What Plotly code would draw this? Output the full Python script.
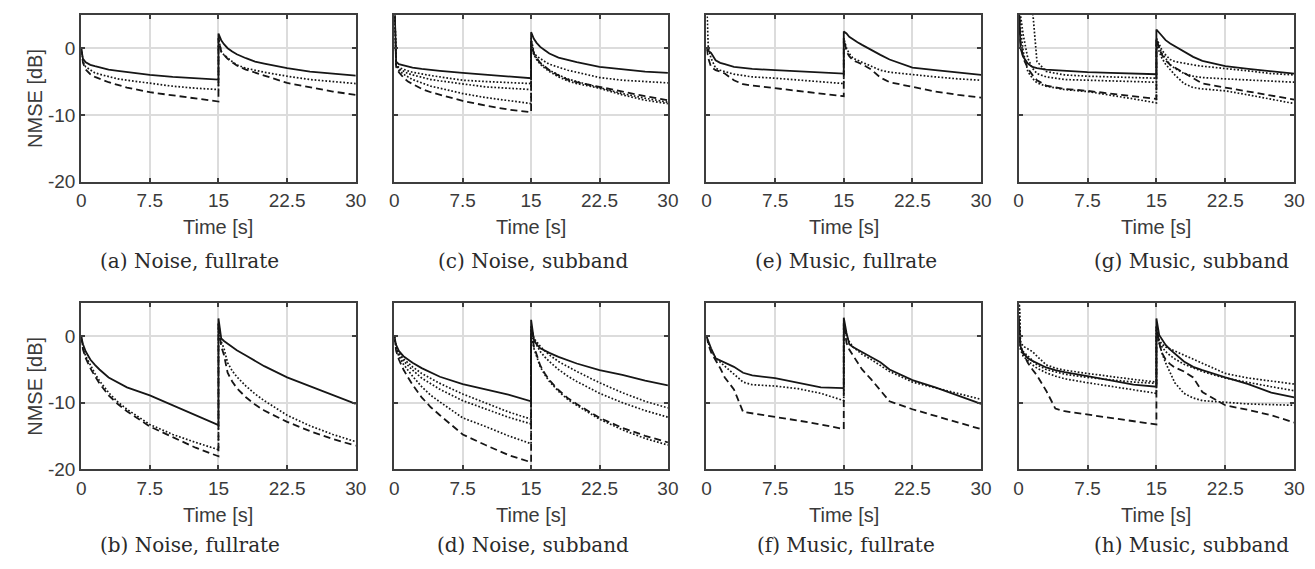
import plotly.graph_objects as go

# ---------------- data ----------------
TIME = [0, 0.2, 0.5, 1, 1.5, 2, 3, 4, 5, 7.5, 10, 12.5, 15, 15, 15.3, 15.6, 16, 16.5, 17, 18, 19, 20, 22.5, 25, 27.5, 30]
X_TICKS = [0, 7.5, 15, 22.5, 30]
X_TICK_TEXT = ["0", "7.5", "15", "22.5", "30"]
Y_TICKS = [-20, -10, 0]
Y_TICK_TEXT = ["-20", "-10", "0"]
CAPTIONS = ["(a) Noise, fullrate", "(c) Noise, subband", "(e) Music, fullrate", "(g) Music, subband",
            "(b) Noise, fullrate", "(d) Noise, subband", "(f) Music, fullrate", "(h) Music, subband"]
X_LABEL = "Time [s]"
Y_LABEL = "NMSE [dB]"

# (a) Noise, fullrate
A_SOLID = [0, -1.6, -2.1, -2.5, -2.7, -2.9, -3.2, -3.4, -3.6, -4.0, -4.3, -4.5, -4.7, 2.2, 1.2, 0.6, 0.0, -0.5, -0.9, -1.5, -2.0, -2.3, -3.0, -3.5, -3.8, -4.1]
A_DOTTED = [0, -2.0, -2.8, -3.3, -3.7, -3.9, -4.3, -4.6, -4.8, -5.3, -5.7, -6.0, -6.2, 1.5, -0.5, -1.0, -1.5, -2.0, -2.5, -3.0, -3.3, -3.6, -4.2, -4.7, -5.0, -5.3]
A_DASHED = [0, -2.2, -3.2, -3.9, -4.3, -4.6, -5.1, -5.5, -5.9, -6.6, -7.1, -7.6, -8.0, 1.5, -0.5, -1.0, -1.6, -2.1, -2.6, -3.2, -3.7, -4.1, -5.2, -5.9, -6.5, -7.0]

# (c) Noise, subband
C_SOLID = [8, -2.0, -2.4, -2.6, -2.8, -2.9, -3.1, -3.3, -3.4, -3.7, -4.0, -4.3, -4.5, 2.4, 1.4, 0.8, 0.2, -0.3, -0.8, -1.4, -1.8, -2.1, -2.8, -3.2, -3.5, -3.7]
C_DOTTED1 = [8, -2.4, -2.9, -3.2, -3.4, -3.6, -3.9, -4.1, -4.3, -4.8, -5.0, -5.2, -5.3, 1.5, -0.6, -1.2, -1.6, -2.0, -2.4, -2.9, -3.3, -3.6, -4.4, -4.8, -5.0, -5.2]
C_DOTTED2 = [8, -2.5, -3.1, -3.5, -3.8, -4.0, -4.4, -4.7, -4.9, -5.4, -5.8, -6.0, -6.2, 1.0, -0.8, -1.5, -2.2, -2.8, -3.3, -4.0, -4.6, -5.0, -5.9, -6.8, -7.5, -8.1]
C_DOTTED3 = [8, -2.6, -3.3, -3.9, -4.3, -4.7, -5.2, -5.7, -6.0, -6.8, -7.4, -7.9, -8.3, 0.5, -1.0, -1.7, -2.4, -3.0, -3.5, -4.3, -4.9, -5.3, -6.0, -7.0, -7.8, -8.3]
C_DASHED = [8, -2.8, -3.6, -4.4, -5.0, -5.4, -6.1, -6.6, -7.0, -7.9, -8.6, -9.2, -9.6, 1.0, -0.8, -1.5, -2.2, -2.8, -3.3, -4.1, -4.7, -5.1, -5.8, -6.6, -7.2, -7.8]

# (e) Music, fullrate
E_SOLID = [-0.2, -0.4, -0.7, -1.8, -2.2, -2.4, -2.8, -2.95, -3.1, -3.3, -3.5, -3.7, -3.8, 2.5, 2.2, 1.7, 1.4, 0.9, 0.5, -0.3, -1.0, -1.7, -2.9, -3.3, -3.7, -4.0]
E_DOTTED = [8, 0.0, -1.5, -3.0, -3.3, -3.5, -3.9, -4.1, -4.3, -4.5, -4.8, -5.0, -5.3, 1.5, 0.0, -0.8, -1.5, -1.8, -2.1, -2.8, -3.3, -3.6, -4.0, -4.3, -4.6, -4.8]
E_DASHED = [0, -1.5, -2.8, -3.3, -3.5, -3.8, -4.8, -5.4, -5.6, -6.0, -6.5, -6.8, -7.2, 1.5, -0.5, -1.2, -1.8, -2.1, -2.4, -3.2, -4.4, -5.1, -5.8, -6.5, -7.0, -7.4]

# (g) Music, subband
G_SOLID = [8, 0.0, -1.3, -2.3, -2.8, -3.0, -3.2, -3.3, -3.4, -3.6, -3.7, -3.8, -3.9, 2.8, 2.3, 1.8, 1.2, 0.7, 0.3, -0.5, -1.3, -1.9, -2.7, -3.1, -3.5, -3.8]
G_DOTTED1 = [8, 8, 8, 8, 6, -2.0, -3.5, -3.8, -4.0, -4.2, -4.3, -4.4, -4.5, 1.5, 0.5, -0.3, -1.0, -1.7, -2.0, -2.3, -2.5, -2.7, -3.0, -3.4, -3.8, -4.0]
G_DOTTED2 = [8, 5, 2, -1.5, -3.0, -3.8, -4.3, -4.5, -4.7, -4.8, -4.9, -5.0, -5.1, 1.0, 0.0, -0.8, -1.5, -2.5, -3.0, -3.8, -4.2, -4.4, -4.6, -4.8, -5.0, -5.1]
G_DOTTED3 = [8, 3, -0.5, -3.5, -4.5, -5.2, -5.7, -6.0, -6.2, -6.5, -7.0, -7.6, -8.2, 0.5, -0.5, -1.5, -2.4, -3.2, -4.0, -5.3, -5.9, -6.1, -6.4, -7.0, -7.7, -8.3]
G_DASHED = [8, 1, -1.5, -3.0, -4.0, -4.8, -5.6, -5.9, -6.1, -6.4, -6.8, -7.3, -7.6, 1.5, 0.0, -1.0, -1.8, -2.5, -2.9, -3.7, -4.5, -5.3, -5.9, -6.5, -7.1, -7.7]

# (b) Noise, fullrate
B_SOLID = [0, -1.2, -2.3, -3.5, -4.3, -5.0, -6.2, -7.0, -7.7, -8.9, -10.4, -11.9, -13.4, 2.7, -0.3, -0.7, -1.1, -1.6, -2.1, -2.9, -3.7, -4.5, -6.2, -7.5, -8.8, -10.2]
B_DOTTED = [0, -1.8, -3.0, -4.4, -5.6, -6.7, -8.5, -9.9, -11.0, -13.3, -14.8, -16.0, -17.1, 2.0, -0.8, -1.8, -4.0, -5.2, -6.1, -7.5, -8.7, -9.7, -11.9, -13.5, -14.8, -15.9]
B_DASHED = [0, -2.0, -3.3, -4.8, -6.0, -7.1, -8.9, -10.2, -11.3, -13.6, -15.2, -16.8, -18.1, 2.0, -1.5, -2.8, -5.5, -6.8, -7.8, -9.2, -10.3, -11.2, -12.9, -14.3, -15.5, -16.5]

# (d) Noise, subband
D_SOLID = [0, -1.3, -2.2, -3.0, -3.5, -4.0, -4.8, -5.5, -6.1, -7.2, -8.0, -8.8, -9.8, 2.5, -0.5, -1.2, -1.8, -2.2, -2.5, -3.1, -3.6, -4.1, -5.1, -5.8, -6.7, -7.4]
D_DOTTED1 = [0, -1.6, -2.5, -3.4, -4.0, -4.6, -5.6, -6.4, -7.1, -8.7, -10.0, -11.4, -12.5, 1.5, -0.3, -0.9, -1.5, -2.2, -2.8, -3.8, -4.6, -5.3, -7.0, -8.5, -9.8, -10.8]
D_DOTTED2 = [0, -1.7, -2.7, -3.7, -4.4, -5.1, -6.3, -7.2, -8.0, -9.7, -11.0, -12.2, -13.2, 1.5, -0.6, -1.4, -2.3, -3.1, -3.8, -5.0, -6.0, -6.8, -8.6, -10.0, -11.2, -12.2]
D_DOTTED3 = [0, -1.9, -3.0, -4.2, -5.1, -6.0, -7.6, -8.9, -9.9, -12.3, -13.6, -15.0, -16.2, 0.5, -1.8, -3.0, -4.6, -5.8, -6.8, -8.3, -9.5, -10.4, -12.5, -14.1, -15.4, -16.4]
D_DASHED = [0, -2.2, -3.5, -5.0, -6.2, -7.3, -9.2, -10.7, -11.9, -14.8, -16.4, -17.9, -19.0, 1.0, -1.5, -2.8, -4.4, -5.6, -6.6, -8.1, -9.3, -10.2, -12.3, -13.8, -15.0, -16.0]

# (f) Music, fullrate
F_SOLID = [0, -0.8, -1.8, -3.3, -3.6, -3.9, -4.6, -5.5, -5.9, -6.3, -7.0, -7.7, -7.8, 2.8, 0.5, -1.2, -1.6, -2.0, -2.4, -3.1, -3.9, -5.0, -6.6, -7.7, -9.0, -10.2]
F_DOTTED = [0, -1.0, -2.0, -3.3, -3.9, -4.5, -5.7, -6.9, -7.3, -7.5, -7.9, -8.6, -9.7, 2.0, 0.0, -0.8, -1.6, -2.2, -2.7, -3.5, -4.4, -5.3, -6.9, -7.8, -8.6, -9.5]
F_DASHED = [0, -1.2, -2.4, -3.5, -4.8, -6.2, -8.0, -11.4, -11.6, -12.1, -12.7, -13.3, -14.0, 2.0, -1.0, -2.0, -2.9, -4.0, -5.0, -6.5, -8.2, -9.8, -11.0, -12.0, -12.9, -14.0]

# (h) Music, subband
H_SOLID = [3, -1.5, -2.5, -3.3, -3.7, -4.0, -4.7, -5.1, -5.4, -6.0, -6.7, -7.3, -7.6, 2.7, 0.2, -0.5, -1.3, -2.0, -2.6, -3.8, -4.6, -5.1, -6.2, -7.2, -8.5, -9.2]
H_DOTTED1 = [8, -0.8, -1.5, -1.9, -2.3, -3.0, -4.3, -4.8, -5.1, -5.6, -6.1, -6.5, -6.9, 1.5, -0.5, -1.2, -1.6, -1.9, -2.2, -2.8, -3.4, -4.0, -5.6, -6.3, -6.8, -7.2]
H_DOTTED2 = [8, -1.5, -2.3, -3.0, -3.7, -4.3, -5.0, -5.4, -5.7, -6.2, -6.6, -6.9, -7.1, 1.0, -1.0, -1.6, -2.3, -2.9, -3.4, -4.2, -4.8, -5.3, -6.3, -7.0, -7.6, -8.2]
H_DOTTED3 = [8, -2.0, -3.0, -3.7, -4.3, -4.8, -5.5, -6.0, -6.4, -7.0, -7.5, -8.0, -8.6, 0.5, -1.2, -2.5, -4.0, -5.5, -7.0, -8.6, -9.3, -9.7, -10.0, -10.2, -10.3, -10.4]
H_DASHED = [3, -1.5, -2.6, -4.0, -5.0, -5.9, -8.2, -10.9, -11.3, -11.8, -12.3, -12.9, -13.3, 1.5, -1.0, -2.5, -3.5, -4.2, -4.7, -5.3, -6.2, -8.4, -10.4, -11.1, -11.9, -13.0]

# series per panel (order: a, c, e, g, b, d, f, h)
PANEL_SERIES = [
    [(A_DOTTED, "dot"), (A_DASHED, "dash"), (A_SOLID, "solid")],
    [(C_DOTTED1, "dot"), (C_DOTTED2, "dot"), (C_DOTTED3, "dot"), (C_DASHED, "dash"), (C_SOLID, "solid")],
    [(E_DOTTED, "dot"), (E_DASHED, "dash"), (E_SOLID, "solid")],
    [(G_DOTTED1, "dot"), (G_DOTTED2, "dot"), (G_DOTTED3, "dot"), (G_DASHED, "dash"), (G_SOLID, "solid")],
    [(B_DOTTED, "dot"), (B_DASHED, "dash"), (B_SOLID, "solid")],
    [(D_DOTTED1, "dot"), (D_DOTTED2, "dot"), (D_DOTTED3, "dot"), (D_DASHED, "dash"), (D_SOLID, "solid")],
    [(F_DOTTED, "dot"), (F_DASHED, "dash"), (F_SOLID, "solid")],
    [(H_DOTTED1, "dot"), (H_DOTTED2, "dot"), (H_DOTTED3, "dot"), (H_DASHED, "dash"), (H_SOLID, "solid")],
]

# ---------------- layout geometry ----------------
W, H = 1315, 569
COLS_PX = [(69, 347), (386, 663), (702, 980), (1018, 1297)]
ROWS_PX = [(7, 177), (301, 470)]
CAPTION_X = [179, 526, 843, 1193]
CAPTION_Y = [258, 548]
XTITLE_Y = [223, 517]

DASHES = {"solid": "solid", "dash": "7px,4px", "dot": "1.7px,1.9px"}
LINE_COLOR = "#161616"
AXIS_COLOR = "#3d3d3d"
TICK_FONT = dict(family="Liberation Sans, Arial, sans-serif", size=19, color="#3a3a3a")

fig = go.Figure()
layout = dict(width=W, height=H, margin=dict(l=0, r=0, t=0, b=0),
              paper_bgcolor="white", plot_bgcolor="white", showlegend=False)
annotations = []

for i, series in enumerate(PANEL_SERIES):
    r, c = divmod(i, 4)
    x0, x1 = COLS_PX[c]
    ytop, ybot = ROWS_PX[r]
    n = i + 1
    xa = "x" if n == 1 else f"x{n}"
    ya = "y" if n == 1 else f"y{n}"
    for vals, style in series:
        fig.add_trace(go.Scatter(x=TIME, y=vals, mode="lines", xaxis=xa, yaxis=ya,
                                 line=dict(color=LINE_COLOR, width=1.8 if style != "dot" else 1.7,
                                           dash=DASHES[style]),
                                 hoverinfo="skip"))
    common = dict(showgrid=True, gridcolor="#dcdcdc", gridwidth=1.5, zeroline=False,
                  showline=True, linecolor=AXIS_COLOR, linewidth=2, mirror="ticks",
                  ticks="inside", ticklen=4, tickwidth=1.5, tickcolor=AXIS_COLOR,
                  tickfont=TICK_FONT, fixedrange=True)
    layout["xaxis" if n == 1 else f"xaxis{n}"] = dict(
        common, domain=[x0 / W, x1 / W], range=[0, 30], anchor=ya,
        tickmode="array", tickvals=X_TICKS, ticktext=X_TICK_TEXT, ticklabelstandoff=1)
    layout["yaxis" if n == 1 else f"yaxis{n}"] = dict(
        common, domain=[(H - ybot) / H, (H - ytop) / H], range=[-20, 5], anchor=xa,
        tickmode="array", tickvals=Y_TICKS, ticktext=Y_TICK_TEXT, showticklabels=(c == 0))
    # x title
    annotations.append(dict(text=X_LABEL, xref="paper", yref="paper", x=(x0 + x1) / 2 / W,
                            y=(H - XTITLE_Y[r]) / H, xanchor="center", yanchor="middle",
                            showarrow=False, font=dict(family="Liberation Sans, Arial, sans-serif",
                                                       size=20, color="#3a3a3a")))
    # caption
    annotations.append(dict(text=CAPTIONS[i], xref="paper", yref="paper", x=CAPTION_X[c] / W,
                            y=(H - CAPTION_Y[r]) / H, xanchor="center", yanchor="middle",
                            showarrow=False, font=dict(family="DejaVu Serif, serif", size=20,
                                                       color="#2a2a2a")))
    if c == 0:
        annotations.append(dict(text=Y_LABEL, xref="paper", yref="paper", x=22 / W,
                                y=(H - (ytop + ybot) / 2) / H, xanchor="center", yanchor="middle",
                                textangle=-90, showarrow=False,
                                font=dict(family="Liberation Sans, Arial, sans-serif", size=20,
                                          color="#3a3a3a")))

layout["annotations"] = annotations
fig.update_layout(**layout)
fig.write_html("out.html")
